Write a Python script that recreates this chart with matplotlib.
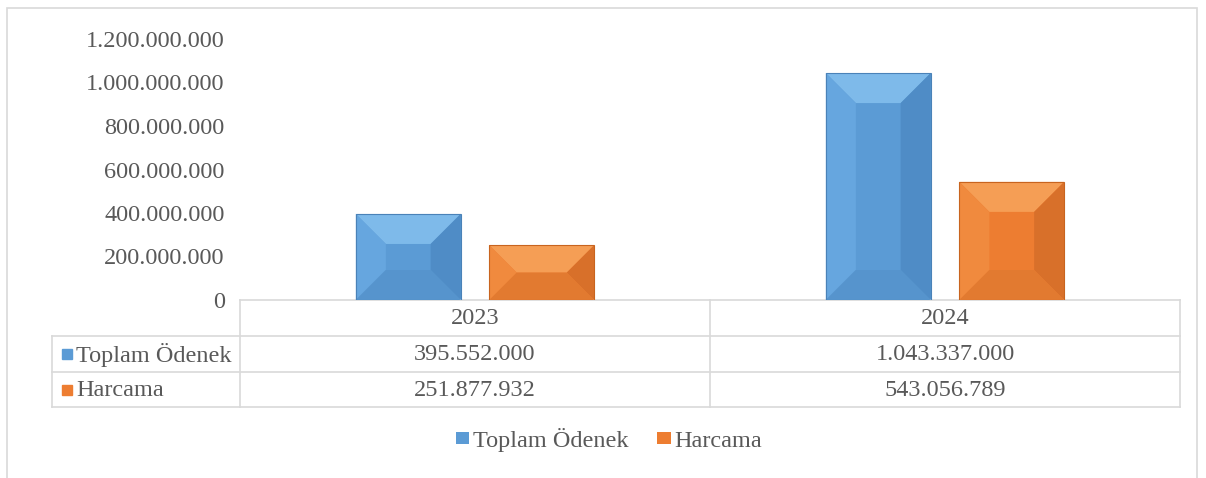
import matplotlib.pyplot as plt
import numpy as np
from matplotlib.patches import Polygon, Rectangle, Patch
from matplotlib.lines import Line2D

years = ["2023", "2024"]
series_names = ["Toplam Ödenek", "Harcama"]
toplam_odenek = [395552000, 1043337000]
harcama = [251877932, 543056789]
yticks = [0, 200000000, 400000000, 600000000, 800000000, 1000000000, 1200000000]

plt.rcParams["font.family"] = ["Liberation Serif", "DejaVu Serif"]
TXT = "#595959"
GRID = "#d9d9d9"
FS = 17.5

W, H = 1206, 478
fig = plt.figure(figsize=(W / 100, H / 100), dpi=100)


def fx(px):
    return px / W


def fy(py):
    return 1 - py / H


# plot area in pixels
L, R, T, B = 240, 1180, 39, 300
ax = fig.add_axes([fx(L), fy(B), fx(R - L), (B - T) / H])
ax.set_xlim(-0.5, len(years) - 0.5)
ax.set_ylim(0, 1200000000)

x = np.arange(len(years))
bw = 0.223
off = 0.142
bars_a = ax.bar(x - off, toplam_odenek, bw, color="#5b9bd5", zorder=2)
bars_b = ax.bar(x + off, harcama, bw, color="#ed7d31", zorder=2)


def bevel(bars, light, mid, dark, darker, edge):
    # soft bevel faces drawn on top of each bar
    inv = ax.transData.inverted()
    for p in bars:
        x0, y0 = p.get_x(), p.get_y()
        x1, y1 = x0 + p.get_width(), y0 + p.get_height()
        (px0, py0), (px1, py1) = ax.transData.transform([(x0, y0), (x1, y1)])
        b = min((px1 - px0) / 2, (py1 - py0) / 2, 30)
        pts = {
            "bl": (px0, py0), "br": (px1, py0), "tl": (px0, py1), "tr": (px1, py1),
            "ibl": (px0 + b, py0 + b), "ibr": (px1 - b, py0 + b),
            "itl": (px0 + b, py1 - b), "itr": (px1 - b, py1 - b),
        }
        faces = [
            (["tl", "tr", "itr", "itl"], light),
            (["tl", "itl", "ibl", "bl"], mid),
            (["tr", "br", "ibr", "itr"], dark),
            (["bl", "ibl", "ibr", "br"], darker),
        ]
        for keys, c in faces:
            poly = inv.transform([pts[k] for k in keys])
            ax.add_patch(Polygon(poly, closed=True, facecolor=c, edgecolor="none", zorder=3))
        ax.add_patch(Rectangle((x0, y0), x1 - x0, y1 - y0, fill=False,
                               edgecolor=edge, lw=0.8, zorder=4))


bevel(bars_a, "#7ebaea", "#66a6df", "#4f8cc6", "#5694cd", "#4a82b8")
bevel(bars_b, "#f59e55", "#f08a3e", "#d8702a", "#e27a30", "#c8641f")

ax.set_yticks(yticks)
ax.set_yticklabels([f"{v:,.0f}".replace(",", ".") for v in yticks], fontsize=FS, color=TXT)
ax.tick_params(axis="y", length=0, pad=11)
ax.tick_params(axis="x", length=0, labelbottom=False)
for s in ["top", "right", "left"]:
    ax.spines[s].set_visible(False)
ax.spines["bottom"].set_color(GRID)
ax.spines["bottom"].set_linewidth(1.2)


def hline(py, x0, x1):
    fig.add_artist(Line2D([fx(x0), fx(x1)], [fy(py), fy(py)], color=GRID, lw=1.2))


def vline(px, y0, y1):
    fig.add_artist(Line2D([fx(px), fx(px)], [fy(y0), fy(y1)], color=GRID, lw=1.2))


# data table
rows_y = [300, 336, 372, 407]
hline(336, 52, R)
hline(372, 52, R)
hline(407, 52, R)
vline(52, 336, 407)
vline(L, 300, 407)
vline((L + R) / 2, 300, 407)
vline(R, 300, 407)

col_w = (R - L) / len(years)
colors = ["#5b9bd5", "#ed7d31"]
for i, yr in enumerate(years):
    cx = L + col_w * (i + 0.5)
    fig.text(fx(cx), fy(319), yr, ha="center", va="center", fontsize=FS, color=TXT)
    for j, vals in enumerate([toplam_odenek, harcama]):
        cy = (rows_y[j + 1] + rows_y[j + 2]) / 2
        fig.text(fx(cx), fy(cy + 1), f"{vals[i]:,.0f}".replace(",", "."),
                 ha="center", va="center", fontsize=FS, color=TXT)

for j, name in enumerate(series_names):
    cy = (rows_y[j + 1] + rows_y[j + 2]) / 2
    fig.add_artist(Rectangle((fx(62), fy(cy + 5)), 10 / W, 10 / H, color=colors[j]))
    fig.text(fx(76), fy(cy + 1), name, ha="left", va="center", fontsize=FS, color=TXT)

# legend
handles = [Patch(facecolor=c) for c in colors]
fig.legend(handles, series_names, loc="center", bbox_to_anchor=(0.505, fy(440)), ncol=2,
           frameon=False, fontsize=FS, labelcolor=TXT, handlelength=0.55, handleheight=0.4,
           handletextpad=0.15, columnspacing=1.2)

# outer frame
fig.add_artist(Rectangle((fx(7), fy(490)), fx(1190), (490 - 8) / H, fill=False,
                         edgecolor=GRID, lw=1.2))

fig.savefig("out.png", dpi=100)
